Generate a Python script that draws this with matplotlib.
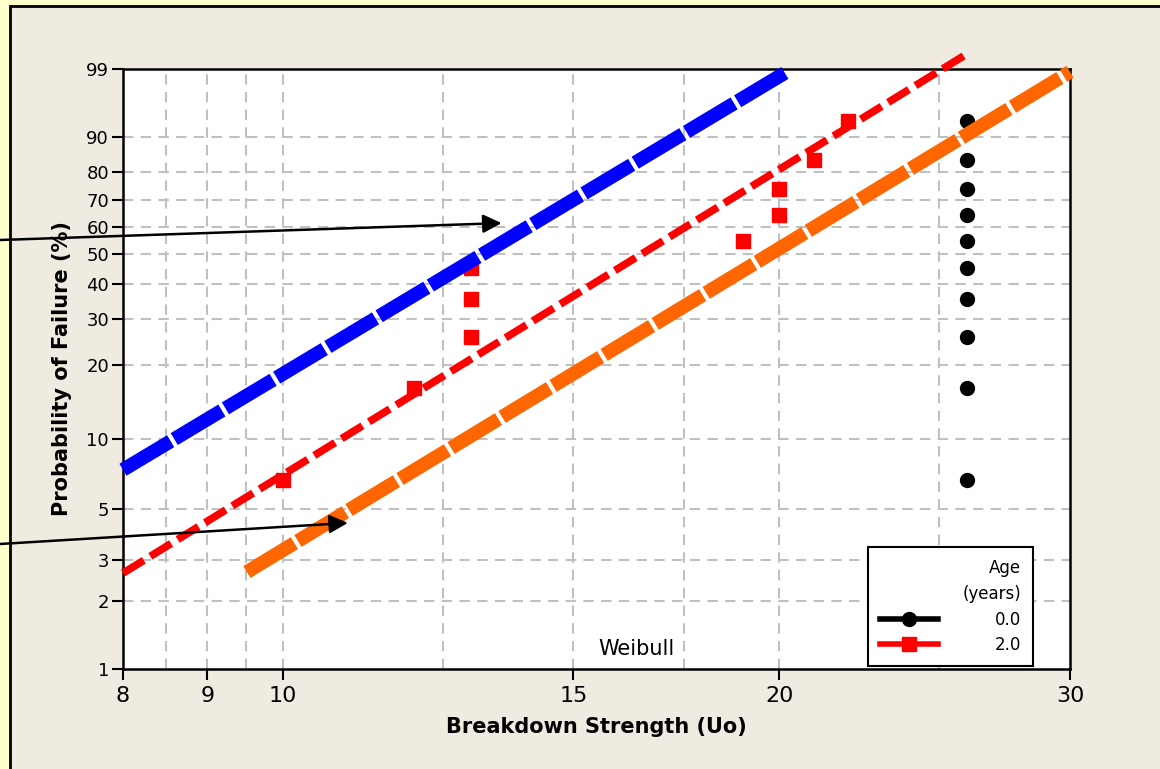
import numpy as np
import matplotlib
matplotlib.use('Agg')
import matplotlib.pyplot as plt
from matplotlib.patches import Rectangle
from matplotlib.lines import Line2D

# fitted Weibull lines (end points, straight on this paper)
blue_x = [8.0, 20.15]
blue_p = [7.4, 98.8]
red_x = [8.0, 25.9]
red_p = [2.64, 99.5]
orange_x = [9.51, 30.0]
orange_p = [2.67, 98.86]

# data points
age2_x = [10, 12, 13, 13, 13, 19, 20, 20, 21, 22]
age2_p = [6.7, 16.3, 25.9, 35.6, 45.2, 54.8, 64.4, 74.0, 83.7, 93.3]
age0_x = [26, 26, 26, 26, 26, 26, 26, 26, 26, 26]
age0_p = [6.7, 16.3, 25.9, 35.6, 45.2, 54.8, 64.4, 74.0, 83.7, 93.3]

xticks = [8, 9, 10, 15, 20, 30]
yticks = [1, 2, 3, 5, 10, 20, 30, 40, 50, 60, 70, 80, 90, 99]
xgrid = [8.5, 9, 9.5, 10, 12.5, 15, 17.5, 20, 25]
ygrid = [2, 3, 5, 10, 20, 30, 40, 50, 60, 70, 80, 90]


def fwd(p):
    p = np.clip(np.asarray(p, dtype=float), 1e-6, 100 - 1e-9)
    return np.log(-np.log(1 - p / 100.0))


def inv(w):
    return 100.0 * (1 - np.exp(-np.exp(w)))


plt.rcParams['font.family'] = ['DejaVu Sans']

fig = plt.figure(figsize=(11.6, 7.69), dpi=100)
fig.patch.set_facecolor('#FFFFCC')
# beige panel
panel = Rectangle((10 / 1160, -0.1), 1.2, 1 - 6 / 769 + 0.1,
                  transform=fig.transFigure, facecolor='#EFEBE0',
                  edgecolor='black', linewidth=2, zorder=-5)
fig.patches.append(panel)

ax = fig.add_axes([123 / 1160, 1 - 669 / 769, 947 / 1160, 600 / 769])
ax.set_zorder(1)
ax.set_facecolor('white')
ax.set_xscale('log')
ax.set_yscale('function', functions=(fwd, inv))
ax.set_xlim(8, 30)
ax.set_ylim(1, 99)

for gx in xgrid:
    ax.axvline(gx, color='#C0C0C0', lw=1.5, ls=(0, (5, 3.5)), zorder=0.5)
for gy in ygrid:
    ax.axhline(gy, color='#C0C0C0', lw=1.5, ls=(0, (5, 3.5)), zorder=0.5)

ax.set_xticks(xticks)
ax.set_xticklabels([str(t) for t in xticks])
ax.xaxis.set_minor_locator(matplotlib.ticker.NullLocator())
ax.set_yticks(yticks)
ax.set_yticklabels([str(t) for t in yticks])
ax.yaxis.set_minor_locator(matplotlib.ticker.NullLocator())
ax.tick_params(axis='x', labelsize=16, length=8, width=1.5, pad=4)
ax.tick_params(axis='y', labelsize=13, length=8, width=1.5, pad=2)
for s in ax.spines.values():
    s.set_linewidth(1.8)

# data markers
ax.plot(age0_x, age0_p, 'o', color='black', ms=10, zorder=2, clip_on=False)
ax.plot(age2_x, age2_p, 's', color='red', ms=10, zorder=2, clip_on=False)

# fitted lines
ax.plot(red_x, red_p, color='red', lw=5.5, dashes=(3.2, 1.0),
        solid_capstyle='butt', dash_capstyle='butt', zorder=3, clip_on=False)
ax.plot(orange_x, orange_p, color='#FF6600', lw=10, dashes=(4.0, 0.3),
        dash_capstyle='butt', zorder=3, clip_on=False)
ax.plot(blue_x, blue_p, color='#0000FF', lw=10, dashes=(4.0, 0.3),
        dash_capstyle='butt', zorder=4, clip_on=False)

ax.text(0.5417, 0.033, 'Weibull', transform=ax.transAxes, fontsize=15,
        ha='center', va='center')

ax.set_xlabel('Breakdown Strength (Uo)', fontsize=15, fontweight='bold',
              labelpad=8)
ax.set_ylabel('Probability of Failure (%)', fontsize=15, fontweight='bold',
              labelpad=10)

# arrows from the left edge
ax.annotate('', xy=(13.57, 61.5), xycoords='data',
            xytext=(0.0, 1 - 240 / 769), textcoords='figure fraction',
            arrowprops=dict(arrowstyle='-|>', color='black', lw=1.8,
                            mutation_scale=28, shrinkA=0, shrinkB=0),
            zorder=6, annotation_clip=False)
ax.annotate('', xy=(10.95, 4.37), xycoords='data',
            xytext=(0.0, 1 - 544 / 769), textcoords='figure fraction',
            arrowprops=dict(arrowstyle='-|>', color='black', lw=1.8,
                            mutation_scale=28, shrinkA=0, shrinkB=0),
            zorder=6, annotation_clip=False)

handles = [Line2D([], [], color='black', lw=4, marker='o', ms=10),
           Line2D([], [], color='red', lw=4, marker='s', ms=10)]
leg = ax.legend(handles, ['0.0', '2.0'], title='Age\n(years)',
                loc='lower left', bbox_to_anchor=(0.787, 0.005),
                borderaxespad=0, fontsize=12, title_fontsize=12,
                handlelength=3.5, handletextpad=3.4, frameon=True,
                fancybox=False, edgecolor='black', framealpha=1,
                borderpad=0.7, labelspacing=0.45, alignment='right')
leg.get_frame().set_linewidth(1.5)
leg.get_title().set_multialignment('right')
leg.get_title().set_linespacing(1.6)
leg.set_zorder(7)

fig.savefig('out.png', dpi=100, facecolor=fig.get_facecolor())
